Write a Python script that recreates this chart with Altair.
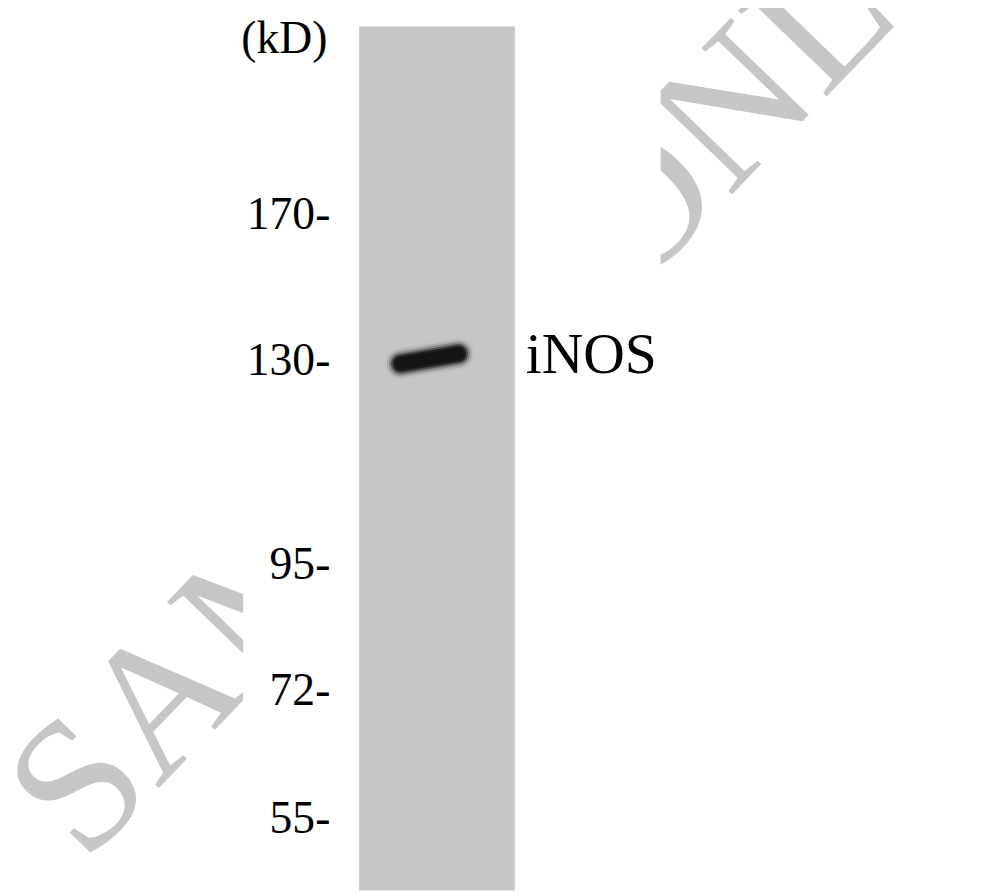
import altair as alt
import pandas as pd

# ---- data read from the blot ----
marker_kd = [170, 130, 95, 72, 55]
marker_labels = ["170-", "130-", "95-", "72-", "55-"]
lane_ids = [1]
lane_top_kd = 240
lane_bottom_kd = 47
band_lane = [1]
band_kd = [130]
band_name = ["iNOS"]
unit_label = "(kD)"
watermark_text = "SAMPLE ONLY"

# ---- scales (migration: piecewise calibrated by markers) ----
y_domain = [lane_bottom_kd] + marker_kd[::-1] + [lane_top_kd]
y_range = [886, 814.5, 685.5, 558.5, 352, 205.5, 15]
y_scale = alt.Scale(domain=y_domain, range=y_range, zero=False, nice=False)
x_scale = alt.Scale(domain=[0.5, 1.5], range=[354, 511], zero=False, nice=False)

SERIF = "Liberation Serif"
LANE_GREY = "#c6c6c6"

lanes = pd.DataFrame({"lane": lane_ids})
lanes["x0"] = lanes["lane"] - 0.5
lanes["x1"] = lanes["lane"] + 0.5
lanes["top"] = lane_top_kd
lanes["bottom"] = lane_bottom_kd

markers = pd.DataFrame({"kd": marker_kd, "label": marker_labels})
bands = pd.DataFrame({"lane": band_lane, "kd": band_kd, "name": band_name})

# watermark (drawn under everything, then masked in the middle)
wm = alt.Chart(pd.DataFrame({"t": [watermark_text]})).mark_text(
    font=SERIF, fontSize=190, color=LANE_GREY, angle=314,
    align="center", baseline="middle"
).encode(
    x=alt.XDatum(1.365, scale=x_scale, axis=None),
    y=alt.YDatum(130.3, scale=y_scale, axis=None),
    text="t:N",
)

mask = alt.Chart(pd.DataFrame({"a": [0]})).mark_rect(color="white").encode(
    x=alt.XDatum(-0.245, scale=x_scale, axis=None),
    x2=alt.X2Datum(2.436),
    y=alt.value(0),
    y2=alt.value(886),
)

lane_rect = alt.Chart(lanes).mark_rect(color=LANE_GREY).encode(
    x=alt.X("x0:Q", scale=x_scale, axis=None),
    x2="x1:Q",
    y=alt.Y("top:Q", scale=y_scale, axis=None),
    y2="bottom:Q",
)

def band_layer(width, color, opacity):
    return alt.Chart(bands).transform_calculate(
        xl="datum.lane - 0.2325", xr="datum.lane + 0.137",
        yl="datum.kd - 0.5", yr="datum.kd + 1.9",
    ).mark_rule(strokeWidth=width, color=color, opacity=opacity, strokeCap="round").encode(
        x=alt.X("xl:Q", scale=x_scale, axis=None),
        x2="xr:Q",
        y=alt.Y("yl:Q", scale=y_scale, axis=None),
        y2="yr:Q",
    )

band_layers = [
    band_layer(32, "#b8b8b8", 0.45),
    band_layer(28, "#9a9a9a", 0.5),
    band_layer(24, "#6a6a6a", 0.55),
    band_layer(20, "#3a3a3a", 0.7),
    band_layer(16, "#1c1c1c", 0.9),
    band_layer(12, "#141414", 1.0),
]

marker_text = alt.Chart(markers).mark_text(
    font=SERIF, fontSize=46, color="black", align="right", baseline="middle", dx=-29
).encode(
    x=alt.XDatum(0.5, scale=x_scale, axis=None),
    y=alt.Y("kd:Q", scale=y_scale, axis=None),
    text="label:N",
)

unit_text = alt.Chart(pd.DataFrame({"t": [unit_label]})).mark_text(
    font=SERIF, fontSize=46, color="black", align="right", baseline="middle", dx=-32, dy=13
).encode(
    x=alt.XDatum(0.5, scale=x_scale, axis=None),
    y=alt.YDatum(lane_top_kd, scale=y_scale, axis=None),
    text="t:N",
)

band_text = alt.Chart(bands).mark_text(
    font=SERIF, fontSize=58, color="black", align="left", baseline="middle", dx=11, dy=-5
).encode(
    x=alt.XDatum(1.5, scale=x_scale, axis=None),
    y=alt.Y("kd:Q", scale=y_scale, axis=None),
    text="name:N",
)

chart = alt.layer(
    wm, mask, lane_rect, *band_layers, marker_text, unit_text, band_text
).properties(
    width=979, height=886, padding=0, autosize="none", background="white"
).configure_view(stroke=None)

chart.save("out.html", embed_options={"renderer": "svg", "actions": False})
